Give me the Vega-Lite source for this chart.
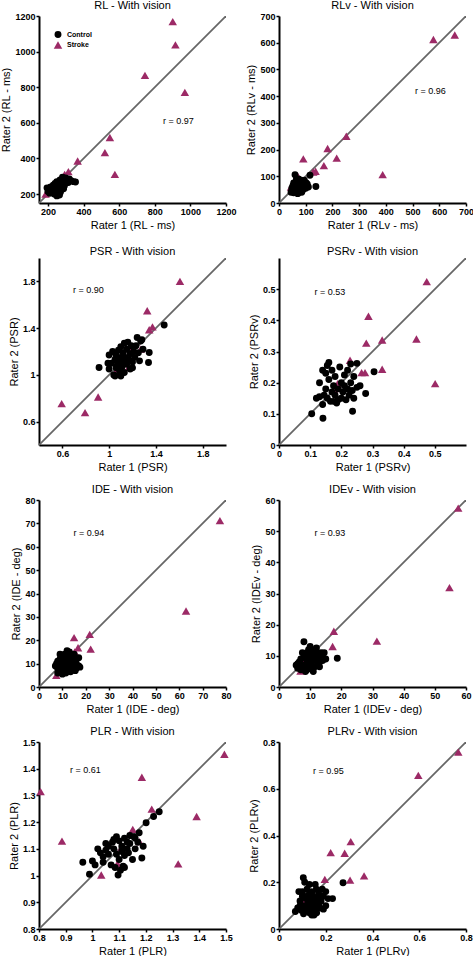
{
"$schema":"https://vega.github.io/schema/vega-lite/v6.json",
"padding":{"left":0,"top":0,"right":2,"bottom":0},
"background":"white",
"columns":2,
"spacing":{"row":55,"column":53},
"bounds":"flush",
"resolve":{"scale":{"color":"independent","shape":"independent","size":"independent"},"legend":{"color":"independent","shape":"independent","size":"independent"}},
"config":{
 "view":{"stroke":null},
 "axis":{"grid":false,"domainColor":"#000","domainWidth":2,"tickColor":"#000","tickWidth":1.5,"tickSize":3,"labelFont":"Liberation Sans","labelFontSize":9,"labelFontWeight":"bold","labelColor":"#000","labelPadding":1,"titleFont":"Liberation Sans","titleFontSize":11,"titleFontWeight":"normal","titleColor":"#000","titlePadding":3,"labelFlush":false,"labelOverlap":false,"format":".2~f"},
 "title":{"font":"Liberation Sans","fontSize":11,"fontWeight":"normal","color":"#000","offset":1},
 "legend":{"labelFont":"Liberation Sans","labelFontSize":7,"labelFontWeight":"bold","labelColor":"#000","symbolSize":50,"rowPadding":2,"title":null,"offset":14,"padding":0}
},
"datasets":{"pts":[
{"p":"RL","g":"Stroke","r1":901,"r2":1168},{"p":"RL","g":"Stroke","r1":916,"r2":1038},{"p":"RL","g":"Stroke","r1":745,"r2":867},{"p":"RL","g":"Stroke","r1":969,"r2":771},{"p":"RL","g":"Stroke","r1":548,"r2":518},{"p":"RL","g":"Stroke","r1":520,"r2":433},{"p":"RL","g":"Stroke","r1":576,"r2":311},{"p":"RL","g":"Stroke","r1":367,"r2":386},{"p":"RL","g":"Stroke","r1":315,"r2":326},{"p":"RL","g":"Stroke","r1":294,"r2":311},{"p":"RL","g":"Stroke","r1":187,"r2":200},{"p":"RL","g":"Stroke","r1":300,"r2":298},
{"p":"RL","g":"Control","r1":195,"r2":235},{"p":"RL","g":"Control","r1":200,"r2":215},{"p":"RL","g":"Control","r1":205,"r2":225},{"p":"RL","g":"Control","r1":210,"r2":205},{"p":"RL","g":"Control","r1":215,"r2":240},{"p":"RL","g":"Control","r1":220,"r2":220},{"p":"RL","g":"Control","r1":225,"r2":230},{"p":"RL","g":"Control","r1":228,"r2":210},{"p":"RL","g":"Control","r1":230,"r2":250},{"p":"RL","g":"Control","r1":235,"r2":200},{"p":"RL","g":"Control","r1":238,"r2":240},{"p":"RL","g":"Control","r1":240,"r2":260},{"p":"RL","g":"Control","r1":242,"r2":220},{"p":"RL","g":"Control","r1":245,"r2":205},{"p":"RL","g":"Control","r1":248,"r2":235},{"p":"RL","g":"Control","r1":250,"r2":270},{"p":"RL","g":"Control","r1":252,"r2":215},{"p":"RL","g":"Control","r1":255,"r2":245},{"p":"RL","g":"Control","r1":258,"r2":225},{"p":"RL","g":"Control","r1":260,"r2":200},{"p":"RL","g":"Control","r1":262,"r2":260},{"p":"RL","g":"Control","r1":265,"r2":235},{"p":"RL","g":"Control","r1":268,"r2":280},{"p":"RL","g":"Control","r1":270,"r2":210},{"p":"RL","g":"Control","r1":272,"r2":250},{"p":"RL","g":"Control","r1":275,"r2":225},{"p":"RL","g":"Control","r1":278,"r2":265},{"p":"RL","g":"Control","r1":280,"r2":240},{"p":"RL","g":"Control","r1":282,"r2":295},{"p":"RL","g":"Control","r1":285,"r2":255},{"p":"RL","g":"Control","r1":288,"r2":230},{"p":"RL","g":"Control","r1":290,"r2":275},{"p":"RL","g":"Control","r1":292,"r2":245},{"p":"RL","g":"Control","r1":295,"r2":285},{"p":"RL","g":"Control","r1":298,"r2":260},{"p":"RL","g":"Control","r1":300,"r2":290},{"p":"RL","g":"Control","r1":305,"r2":270},{"p":"RL","g":"Control","r1":310,"r2":280},{"p":"RL","g":"Control","r1":315,"r2":265},{"p":"RL","g":"Control","r1":320,"r2":285},{"p":"RL","g":"Control","r1":330,"r2":275},{"p":"RL","g":"Control","r1":345,"r2":270},{"p":"RL","g":"Control","r1":355,"r2":268},{"p":"RL","g":"Control","r1":250,"r2":190},{"p":"RL","g":"Control","r1":265,"r2":195},
{"p":"RLv","g":"Stroke","r1":578,"r2":612},{"p":"RLv","g":"Stroke","r1":658,"r2":629},{"p":"RLv","g":"Stroke","r1":252,"r2":250},{"p":"RLv","g":"Stroke","r1":182,"r2":204},{"p":"RLv","g":"Stroke","r1":216,"r2":168},{"p":"RLv","g":"Stroke","r1":168,"r2":140},{"p":"RLv","g":"Stroke","r1":91,"r2":165},{"p":"RLv","g":"Stroke","r1":137,"r2":119},{"p":"RLv","g":"Stroke","r1":128,"r2":116},{"p":"RLv","g":"Stroke","r1":72,"r2":98},{"p":"RLv","g":"Stroke","r1":45,"r2":60},{"p":"RLv","g":"Stroke","r1":388,"r2":106},
{"p":"RLv","g":"Control","r1":45,"r2":40},{"p":"RLv","g":"Control","r1":48,"r2":55},{"p":"RLv","g":"Control","r1":50,"r2":45},{"p":"RLv","g":"Control","r1":52,"r2":65},{"p":"RLv","g":"Control","r1":55,"r2":38},{"p":"RLv","g":"Control","r1":55,"r2":75},{"p":"RLv","g":"Control","r1":58,"r2":50},{"p":"RLv","g":"Control","r1":60,"r2":60},{"p":"RLv","g":"Control","r1":60,"r2":106},{"p":"RLv","g":"Control","r1":62,"r2":42},{"p":"RLv","g":"Control","r1":64,"r2":70},{"p":"RLv","g":"Control","r1":65,"r2":55},{"p":"RLv","g":"Control","r1":67,"r2":80},{"p":"RLv","g":"Control","r1":68,"r2":45},{"p":"RLv","g":"Control","r1":70,"r2":62},{"p":"RLv","g":"Control","r1":72,"r2":50},{"p":"RLv","g":"Control","r1":73,"r2":90},{"p":"RLv","g":"Control","r1":75,"r2":70},{"p":"RLv","g":"Control","r1":76,"r2":40},{"p":"RLv","g":"Control","r1":78,"r2":58},{"p":"RLv","g":"Control","r1":80,"r2":75},{"p":"RLv","g":"Control","r1":80,"r2":48},{"p":"RLv","g":"Control","r1":82,"r2":65},{"p":"RLv","g":"Control","r1":84,"r2":85},{"p":"RLv","g":"Control","r1":85,"r2":55},{"p":"RLv","g":"Control","r1":86,"r2":70},{"p":"RLv","g":"Control","r1":88,"r2":62},{"p":"RLv","g":"Control","r1":90,"r2":78},{"p":"RLv","g":"Control","r1":90,"r2":50},{"p":"RLv","g":"Control","r1":92,"r2":68},{"p":"RLv","g":"Control","r1":94,"r2":60},{"p":"RLv","g":"Control","r1":95,"r2":85},{"p":"RLv","g":"Control","r1":96,"r2":72},{"p":"RLv","g":"Control","r1":98,"r2":58},{"p":"RLv","g":"Control","r1":100,"r2":65},{"p":"RLv","g":"Control","r1":102,"r2":75},{"p":"RLv","g":"Control","r1":104,"r2":62},{"p":"RLv","g":"Control","r1":106,"r2":70},{"p":"RLv","g":"Control","r1":110,"r2":60},{"p":"RLv","g":"Control","r1":116,"r2":104},{"p":"RLv","g":"Control","r1":138,"r2":62},{"p":"RLv","g":"Control","r1":70,"r2":35},{"p":"RLv","g":"Control","r1":85,"r2":40},{"p":"RLv","g":"Control","r1":65,"r2":88},{"p":"RLv","g":"Control","r1":100,"r2":55},
{"p":"PSR","g":"Stroke","r1":1.606,"r2":1.8},{"p":"PSR","g":"Stroke","r1":1.326,"r2":1.549},{"p":"PSR","g":"Stroke","r1":1.371,"r2":1.411},{"p":"PSR","g":"Stroke","r1":1.343,"r2":1.386},{"p":"PSR","g":"Stroke","r1":1.271,"r2":1.22},{"p":"PSR","g":"Stroke","r1":1.186,"r2":1.214},{"p":"PSR","g":"Stroke","r1":1.166,"r2":1.063},{"p":"PSR","g":"Stroke","r1":1.071,"r2":1.049},{"p":"PSR","g":"Stroke","r1":0.906,"r2":0.811},{"p":"PSR","g":"Stroke","r1":0.794,"r2":0.677},{"p":"PSR","g":"Stroke","r1":0.594,"r2":0.754},
{"p":"PSR","g":"Control","r1":0.914,"r2":1.063},{"p":"PSR","g":"Control","r1":1.0,"r2":1.05},{"p":"PSR","g":"Control","r1":1.0,"r2":1.17},{"p":"PSR","g":"Control","r1":1.02,"r2":1.1},{"p":"PSR","g":"Control","r1":1.03,"r2":1.2},{"p":"PSR","g":"Control","r1":1.04,"r2":1.0},{"p":"PSR","g":"Control","r1":1.05,"r2":1.13},{"p":"PSR","g":"Control","r1":1.051,"r2":0.991},{"p":"PSR","g":"Control","r1":1.06,"r2":1.17},{"p":"PSR","g":"Control","r1":1.07,"r2":1.08},{"p":"PSR","g":"Control","r1":1.08,"r2":1.21},{"p":"PSR","g":"Control","r1":1.08,"r2":1.12},{"p":"PSR","g":"Control","r1":1.09,"r2":1.03},{"p":"PSR","g":"Control","r1":1.1,"r2":1.15},{"p":"PSR","g":"Control","r1":1.1,"r2":1.24},{"p":"PSR","g":"Control","r1":1.11,"r2":1.07},{"p":"PSR","g":"Control","r1":1.12,"r2":1.19},{"p":"PSR","g":"Control","r1":1.12,"r2":1.11},{"p":"PSR","g":"Control","r1":1.13,"r2":1.27},{"p":"PSR","g":"Control","r1":1.13,"r2":1.02},{"p":"PSR","g":"Control","r1":1.14,"r2":1.15},{"p":"PSR","g":"Control","r1":1.15,"r2":1.09},{"p":"PSR","g":"Control","r1":1.15,"r2":1.22},{"p":"PSR","g":"Control","r1":1.16,"r2":1.28},{"p":"PSR","g":"Control","r1":1.17,"r2":1.13},{"p":"PSR","g":"Control","r1":1.18,"r2":1.18},{"p":"PSR","g":"Control","r1":1.18,"r2":1.05},{"p":"PSR","g":"Control","r1":1.19,"r2":1.25},{"p":"PSR","g":"Control","r1":1.2,"r2":1.11},{"p":"PSR","g":"Control","r1":1.21,"r2":1.2},{"p":"PSR","g":"Control","r1":1.22,"r2":1.15},{"p":"PSR","g":"Control","r1":1.23,"r2":1.25},{"p":"PSR","g":"Control","r1":1.24,"r2":1.32},{"p":"PSR","g":"Control","r1":1.25,"r2":1.19},{"p":"PSR","g":"Control","r1":1.26,"r2":1.12},{"p":"PSR","g":"Control","r1":1.27,"r2":1.29},{"p":"PSR","g":"Control","r1":1.28,"r2":1.3},{"p":"PSR","g":"Control","r1":1.29,"r2":1.22},{"p":"PSR","g":"Control","r1":1.337,"r2":1.106},{"p":"PSR","g":"Control","r1":1.343,"r2":1.191},{"p":"PSR","g":"Control","r1":1.471,"r2":1.426},{"p":"PSR","g":"Control","r1":1.06,"r2":1.06},{"p":"PSR","g":"Control","r1":1.1,"r2":0.99},{"p":"PSR","g":"Control","r1":0.99,"r2":1.1},{"p":"PSR","g":"Control","r1":1.2,"r2":1.06},
{"p":"PSRv","g":"Stroke","r1":0.474,"r2":0.524},{"p":"PSRv","g":"Stroke","r1":0.287,"r2":0.413},{"p":"PSRv","g":"Stroke","r1":0.331,"r2":0.337},{"p":"PSRv","g":"Stroke","r1":0.28,"r2":0.327},{"p":"PSRv","g":"Stroke","r1":0.441,"r2":0.34},{"p":"PSRv","g":"Stroke","r1":0.228,"r2":0.272},{"p":"PSRv","g":"Stroke","r1":0.265,"r2":0.232},{"p":"PSRv","g":"Stroke","r1":0.276,"r2":0.232},{"p":"PSRv","g":"Stroke","r1":0.331,"r2":0.243},{"p":"PSRv","g":"Stroke","r1":0.501,"r2":0.197},{"p":"PSRv","g":"Stroke","r1":0.188,"r2":0.197},{"p":"PSRv","g":"Stroke","r1":0.177,"r2":0.178},
{"p":"PSRv","g":"Control","r1":0.105,"r2":0.1},{"p":"PSRv","g":"Control","r1":0.141,"r2":0.086},{"p":"PSRv","g":"Control","r1":0.13,"r2":0.2},{"p":"PSRv","g":"Control","r1":0.14,"r2":0.13},{"p":"PSRv","g":"Control","r1":0.145,"r2":0.16},{"p":"PSRv","g":"Control","r1":0.15,"r2":0.23},{"p":"PSRv","g":"Control","r1":0.15,"r2":0.18},{"p":"PSRv","g":"Control","r1":0.155,"r2":0.15},{"p":"PSRv","g":"Control","r1":0.16,"r2":0.265},{"p":"PSRv","g":"Control","r1":0.16,"r2":0.21},{"p":"PSRv","g":"Control","r1":0.165,"r2":0.14},{"p":"PSRv","g":"Control","r1":0.17,"r2":0.24},{"p":"PSRv","g":"Control","r1":0.17,"r2":0.17},{"p":"PSRv","g":"Control","r1":0.175,"r2":0.19},{"p":"PSRv","g":"Control","r1":0.18,"r2":0.16},{"p":"PSRv","g":"Control","r1":0.18,"r2":0.22},{"p":"PSRv","g":"Control","r1":0.185,"r2":0.135},{"p":"PSRv","g":"Control","r1":0.19,"r2":0.18},{"p":"PSRv","g":"Control","r1":0.195,"r2":0.25},{"p":"PSRv","g":"Control","r1":0.2,"r2":0.15},{"p":"PSRv","g":"Control","r1":0.2,"r2":0.2},{"p":"PSRv","g":"Control","r1":0.205,"r2":0.17},{"p":"PSRv","g":"Control","r1":0.21,"r2":0.225},{"p":"PSRv","g":"Control","r1":0.21,"r2":0.19},{"p":"PSRv","g":"Control","r1":0.215,"r2":0.145},{"p":"PSRv","g":"Control","r1":0.22,"r2":0.18},{"p":"PSRv","g":"Control","r1":0.22,"r2":0.24},{"p":"PSRv","g":"Control","r1":0.225,"r2":0.16},{"p":"PSRv","g":"Control","r1":0.23,"r2":0.2},{"p":"PSRv","g":"Control","r1":0.235,"r2":0.175},{"p":"PSRv","g":"Control","r1":0.24,"r2":0.15},{"p":"PSRv","g":"Control","r1":0.24,"r2":0.22},{"p":"PSRv","g":"Control","r1":0.236,"r2":0.108},{"p":"PSRv","g":"Control","r1":0.25,"r2":0.185},{"p":"PSRv","g":"Control","r1":0.25,"r2":0.262},{"p":"PSRv","g":"Control","r1":0.26,"r2":0.19},{"p":"PSRv","g":"Control","r1":0.278,"r2":0.165},{"p":"PSRv","g":"Control","r1":0.305,"r2":0.235},{"p":"PSRv","g":"Control","r1":0.155,"r2":0.255},{"p":"PSRv","g":"Control","r1":0.13,"r2":0.155},{"p":"PSRv","g":"Control","r1":0.14,"r2":0.24},{"p":"PSRv","g":"Control","r1":0.12,"r2":0.15},{"p":"PSRv","g":"Control","r1":0.19,"r2":0.145},{"p":"PSRv","g":"Control","r1":0.23,"r2":0.26},{"p":"PSRv","g":"Control","r1":0.175,"r2":0.14},
{"p":"IDE","g":"Stroke","r1":77.4,"r2":71.2},{"p":"IDE","g":"Stroke","r1":62.9,"r2":32.5},{"p":"IDE","g":"Stroke","r1":21.7,"r2":22.5},{"p":"IDE","g":"Stroke","r1":22.1,"r2":16.2},{"p":"IDE","g":"Stroke","r1":15,"r2":21.1},{"p":"IDE","g":"Stroke","r1":16.7,"r2":16.8},{"p":"IDE","g":"Stroke","r1":15.3,"r2":15},{"p":"IDE","g":"Stroke","r1":14.3,"r2":12.1},{"p":"IDE","g":"Stroke","r1":11,"r2":10.7},{"p":"IDE","g":"Stroke","r1":9.1,"r2":7.8},{"p":"IDE","g":"Stroke","r1":7.4,"r2":5},{"p":"IDE","g":"Stroke","r1":13,"r2":13},
{"p":"IDE","g":"Control","r1":7,"r2":9},{"p":"IDE","g":"Control","r1":7.5,"r2":10},{"p":"IDE","g":"Control","r1":8,"r2":8},{"p":"IDE","g":"Control","r1":8,"r2":11},{"p":"IDE","g":"Control","r1":8.5,"r2":7},{"p":"IDE","g":"Control","r1":9,"r2":9.5},{"p":"IDE","g":"Control","r1":9,"r2":12},{"p":"IDE","g":"Control","r1":9.5,"r2":6.5},{"p":"IDE","g":"Control","r1":10,"r2":8},{"p":"IDE","g":"Control","r1":10,"r2":10.5},{"p":"IDE","g":"Control","r1":10,"r2":13},{"p":"IDE","g":"Control","r1":10.5,"r2":7},{"p":"IDE","g":"Control","r1":11,"r2":9},{"p":"IDE","g":"Control","r1":11,"r2":11.5},{"p":"IDE","g":"Control","r1":11,"r2":14},{"p":"IDE","g":"Control","r1":11.5,"r2":6},{"p":"IDE","g":"Control","r1":12,"r2":8.5},{"p":"IDE","g":"Control","r1":12,"r2":10},{"p":"IDE","g":"Control","r1":12,"r2":12.5},{"p":"IDE","g":"Control","r1":12.5,"r2":7.5},{"p":"IDE","g":"Control","r1":13,"r2":9},{"p":"IDE","g":"Control","r1":13,"r2":11},{"p":"IDE","g":"Control","r1":13,"r2":15},{"p":"IDE","g":"Control","r1":13.5,"r2":6.5},{"p":"IDE","g":"Control","r1":14,"r2":8},{"p":"IDE","g":"Control","r1":14,"r2":10},{"p":"IDE","g":"Control","r1":14,"r2":13},{"p":"IDE","g":"Control","r1":14.5,"r2":11.5},{"p":"IDE","g":"Control","r1":15,"r2":9},{"p":"IDE","g":"Control","r1":15,"r2":14},{"p":"IDE","g":"Control","r1":15.5,"r2":7},{"p":"IDE","g":"Control","r1":16,"r2":12},{"p":"IDE","g":"Control","r1":16,"r2":10},{"p":"IDE","g":"Control","r1":17,"r2":9},{"p":"IDE","g":"Control","r1":17,"r2":12.5},{"p":"IDE","g":"Control","r1":17.5,"r2":8.5},{"p":"IDE","g":"Control","r1":9,"r2":14},{"p":"IDE","g":"Control","r1":12,"r2":15.5},{"p":"IDE","g":"Control","r1":10,"r2":5.5},{"p":"IDE","g":"Control","r1":8,"r2":6},{"p":"IDE","g":"Control","r1":11.5,"r2":12.5},{"p":"IDE","g":"Control","r1":13,"r2":7},{"p":"IDE","g":"Control","r1":15,"r2":11},{"p":"IDE","g":"Control","r1":16,"r2":8},{"p":"IDE","g":"Control","r1":12,"r2":9.5},
{"p":"IDEv","g":"Stroke","r1":57.5,"r2":57.4},{"p":"IDEv","g":"Stroke","r1":54.7,"r2":31.9},{"p":"IDEv","g":"Stroke","r1":31.4,"r2":14.7},{"p":"IDEv","g":"Stroke","r1":17.6,"r2":17.9},{"p":"IDEv","g":"Stroke","r1":17.2,"r2":13},{"p":"IDEv","g":"Stroke","r1":9.6,"r2":11.4},{"p":"IDEv","g":"Stroke","r1":11.2,"r2":10.1},{"p":"IDEv","g":"Stroke","r1":8,"r2":9.1},{"p":"IDEv","g":"Stroke","r1":9.1,"r2":6.9},{"p":"IDEv","g":"Stroke","r1":6.9,"r2":5.1},{"p":"IDEv","g":"Stroke","r1":12,"r2":9.5},
{"p":"IDEv","g":"Control","r1":5.5,"r2":7},{"p":"IDEv","g":"Control","r1":6,"r2":6},{"p":"IDEv","g":"Control","r1":6.5,"r2":8},{"p":"IDEv","g":"Control","r1":7,"r2":9},{"p":"IDEv","g":"Control","r1":7,"r2":5.5},{"p":"IDEv","g":"Control","r1":7.5,"r2":11},{"p":"IDEv","g":"Control","r1":8,"r2":14.5},{"p":"IDEv","g":"Control","r1":8,"r2":7},{"p":"IDEv","g":"Control","r1":8.5,"r2":9.5},{"p":"IDEv","g":"Control","r1":8.5,"r2":5},{"p":"IDEv","g":"Control","r1":9,"r2":11},{"p":"IDEv","g":"Control","r1":9,"r2":8},{"p":"IDEv","g":"Control","r1":9.5,"r2":12},{"p":"IDEv","g":"Control","r1":9.5,"r2":6},{"p":"IDEv","g":"Control","r1":10,"r2":9},{"p":"IDEv","g":"Control","r1":10,"r2":10.5},{"p":"IDEv","g":"Control","r1":10.5,"r2":7},{"p":"IDEv","g":"Control","r1":10.5,"r2":12},{"p":"IDEv","g":"Control","r1":11,"r2":8.5},{"p":"IDEv","g":"Control","r1":11,"r2":5},{"p":"IDEv","g":"Control","r1":11.5,"r2":10},{"p":"IDEv","g":"Control","r1":11.5,"r2":6.5},{"p":"IDEv","g":"Control","r1":12,"r2":9},{"p":"IDEv","g":"Control","r1":12,"r2":11},{"p":"IDEv","g":"Control","r1":12.5,"r2":7.5},{"p":"IDEv","g":"Control","r1":13,"r2":8},{"p":"IDEv","g":"Control","r1":13,"r2":10},{"p":"IDEv","g":"Control","r1":13.5,"r2":11},{"p":"IDEv","g":"Control","r1":14,"r2":9},{"p":"IDEv","g":"Control","r1":14.5,"r2":11},{"p":"IDEv","g":"Control","r1":15,"r2":9},{"p":"IDEv","g":"Control","r1":18.7,"r2":9.2},{"p":"IDEv","g":"Control","r1":6,"r2":7.5},{"p":"IDEv","g":"Control","r1":9,"r2":5.5},{"p":"IDEv","g":"Control","r1":12,"r2":12.5},{"p":"IDEv","g":"Control","r1":13,"r2":6.5},{"p":"IDEv","g":"Control","r1":14,"r2":8.5},{"p":"IDEv","g":"Control","r1":7.5,"r2":6.5},{"p":"IDEv","g":"Control","r1":10,"r2":13},{"p":"IDEv","g":"Control","r1":11,"r2":11},
{"p":"PLR","g":"Stroke","r1":1.494,"r2":1.454},{"p":"PLR","g":"Stroke","r1":0.806,"r2":1.314},{"p":"PLR","g":"Stroke","r1":1.185,"r2":1.368},{"p":"PLR","g":"Stroke","r1":1.222,"r2":1.249},{"p":"PLR","g":"Stroke","r1":1.39,"r2":1.221},{"p":"PLR","g":"Stroke","r1":1.151,"r2":1.173},{"p":"PLR","g":"Stroke","r1":1.176,"r2":1.127},{"p":"PLR","g":"Stroke","r1":1.109,"r2":1.104},{"p":"PLR","g":"Stroke","r1":0.886,"r2":1.129},{"p":"PLR","g":"Stroke","r1":1.094,"r2":1.045},{"p":"PLR","g":"Stroke","r1":1.321,"r2":1.044},{"p":"PLR","g":"Stroke","r1":1.033,"r2":1.002},
{"p":"PLR","g":"Control","r1":0.964,"r2":1.05},{"p":"PLR","g":"Control","r1":0.989,"r2":1.005},{"p":"PLR","g":"Control","r1":1.0,"r2":1.055},{"p":"PLR","g":"Control","r1":1.01,"r2":1.04},{"p":"PLR","g":"Control","r1":1.02,"r2":1.1},{"p":"PLR","g":"Control","r1":1.03,"r2":1.085},{"p":"PLR","g":"Control","r1":1.04,"r2":1.07},{"p":"PLR","g":"Control","r1":1.05,"r2":1.12},{"p":"PLR","g":"Control","r1":1.05,"r2":1.095},{"p":"PLR","g":"Control","r1":1.06,"r2":1.11},{"p":"PLR","g":"Control","r1":1.07,"r2":1.04},{"p":"PLR","g":"Control","r1":1.075,"r2":1.125},{"p":"PLR","g":"Control","r1":1.08,"r2":1.1},{"p":"PLR","g":"Control","r1":1.085,"r2":1.03},{"p":"PLR","g":"Control","r1":1.09,"r2":1.145},{"p":"PLR","g":"Control","r1":1.09,"r2":1.08},{"p":"PLR","g":"Control","r1":1.1,"r2":1.13},{"p":"PLR","g":"Control","r1":1.1,"r2":1.06},{"p":"PLR","g":"Control","r1":1.096,"r2":1.002},{"p":"PLR","g":"Control","r1":1.105,"r2":1.02},{"p":"PLR","g":"Control","r1":1.11,"r2":1.11},{"p":"PLR","g":"Control","r1":1.115,"r2":1.035},{"p":"PLR","g":"Control","r1":1.12,"r2":1.14},{"p":"PLR","g":"Control","r1":1.12,"r2":1.075},{"p":"PLR","g":"Control","r1":1.13,"r2":1.1},{"p":"PLR","g":"Control","r1":1.135,"r2":1.085},{"p":"PLR","g":"Control","r1":1.14,"r2":1.15},{"p":"PLR","g":"Control","r1":1.14,"r2":1.12},{"p":"PLR","g":"Control","r1":1.15,"r2":1.06},{"p":"PLR","g":"Control","r1":1.155,"r2":1.145},{"p":"PLR","g":"Control","r1":1.16,"r2":1.1},{"p":"PLR","g":"Control","r1":1.17,"r2":1.125},{"p":"PLR","g":"Control","r1":1.175,"r2":1.16},{"p":"PLR","g":"Control","r1":1.185,"r2":1.066},{"p":"PLR","g":"Control","r1":1.19,"r2":1.11},{"p":"PLR","g":"Control","r1":1.201,"r2":1.198},{"p":"PLR","g":"Control","r1":1.229,"r2":1.221},{"p":"PLR","g":"Control","r1":1.25,"r2":1.239},{"p":"PLR","g":"Control","r1":1.06,"r2":1.08},{"p":"PLR","g":"Control","r1":1.04,"r2":1.05},{"p":"PLR","g":"Control","r1":1.11,"r2":1.09},{"p":"PLR","g":"Control","r1":1.13,"r2":1.125},{"p":"PLR","g":"Control","r1":1.16,"r2":1.14},{"p":"PLR","g":"Control","r1":1.08,"r2":1.135},{"p":"PLR","g":"Control","r1":1.12,"r2":1.03},
{"p":"PLRv","g":"Stroke","r1":0.767,"r2":0.757},{"p":"PLRv","g":"Stroke","r1":0.596,"r2":0.657},{"p":"PLRv","g":"Stroke","r1":0.307,"r2":0.374},{"p":"PLRv","g":"Stroke","r1":0.221,"r2":0.327},{"p":"PLRv","g":"Stroke","r1":0.281,"r2":0.324},{"p":"PLRv","g":"Stroke","r1":0.364,"r2":0.227},{"p":"PLRv","g":"Stroke","r1":0.304,"r2":0.209},{"p":"PLRv","g":"Stroke","r1":0.196,"r2":0.212},{"p":"PLRv","g":"Stroke","r1":0.136,"r2":0.152},{"p":"PLRv","g":"Stroke","r1":0.104,"r2":0.115},{"p":"PLRv","g":"Stroke","r1":0.14,"r2":0.145},
{"p":"PLRv","g":"Control","r1":0.07,"r2":0.075},{"p":"PLRv","g":"Control","r1":0.08,"r2":0.09},{"p":"PLRv","g":"Control","r1":0.085,"r2":0.16},{"p":"PLRv","g":"Control","r1":0.09,"r2":0.12},{"p":"PLRv","g":"Control","r1":0.095,"r2":0.08},{"p":"PLRv","g":"Control","r1":0.1,"r2":0.14},{"p":"PLRv","g":"Control","r1":0.104,"r2":0.219},{"p":"PLRv","g":"Control","r1":0.105,"r2":0.065},{"p":"PLRv","g":"Control","r1":0.11,"r2":0.1},{"p":"PLRv","g":"Control","r1":0.11,"r2":0.2},{"p":"PLRv","g":"Control","r1":0.115,"r2":0.13},{"p":"PLRv","g":"Control","r1":0.12,"r2":0.085},{"p":"PLRv","g":"Control","r1":0.12,"r2":0.17},{"p":"PLRv","g":"Control","r1":0.125,"r2":0.11},{"p":"PLRv","g":"Control","r1":0.13,"r2":0.07},{"p":"PLRv","g":"Control","r1":0.13,"r2":0.19},{"p":"PLRv","g":"Control","r1":0.135,"r2":0.125},{"p":"PLRv","g":"Control","r1":0.14,"r2":0.095},{"p":"PLRv","g":"Control","r1":0.14,"r2":0.16},{"p":"PLRv","g":"Control","r1":0.145,"r2":0.14},{"p":"PLRv","g":"Control","r1":0.15,"r2":0.08},{"p":"PLRv","g":"Control","r1":0.15,"r2":0.115},{"p":"PLRv","g":"Control","r1":0.155,"r2":0.19},{"p":"PLRv","g":"Control","r1":0.16,"r2":0.1},{"p":"PLRv","g":"Control","r1":0.161,"r2":0.069},{"p":"PLRv","g":"Control","r1":0.165,"r2":0.135},{"p":"PLRv","g":"Control","r1":0.17,"r2":0.15},{"p":"PLRv","g":"Control","r1":0.175,"r2":0.09},{"p":"PLRv","g":"Control","r1":0.18,"r2":0.12},{"p":"PLRv","g":"Control","r1":0.185,"r2":0.17},{"p":"PLRv","g":"Control","r1":0.19,"r2":0.14},{"p":"PLRv","g":"Control","r1":0.2,"r2":0.1},{"p":"PLRv","g":"Control","r1":0.2,"r2":0.16},{"p":"PLRv","g":"Control","r1":0.21,"r2":0.13},{"p":"PLRv","g":"Control","r1":0.229,"r2":0.13},{"p":"PLRv","g":"Control","r1":0.274,"r2":0.198},{"p":"PLRv","g":"Control","r1":0.09,"r2":0.1},{"p":"PLRv","g":"Control","r1":0.12,"r2":0.14},{"p":"PLRv","g":"Control","r1":0.14,"r2":0.06},{"p":"PLRv","g":"Control","r1":0.17,"r2":0.11},{"p":"PLRv","g":"Control","r1":0.19,"r2":0.085},{"p":"PLRv","g":"Control","r1":0.1,"r2":0.16},{"p":"PLRv","g":"Control","r1":0.13,"r2":0.15},{"p":"PLRv","g":"Control","r1":0.16,"r2":0.17},{"p":"PLRv","g":"Control","r1":0.15,"r2":0.06}
]},
"concat":[
{"title":"RL - With vision","width":187,"height":187,
 "encoding":{"x":{"field":"r1","type":"quantitative","scale":{"domain":[150,1200],"nice":false,"zero":false},"axis":{"title":"Rater 1 (RL - ms)","values":[200,400,600,800,1000,1200]}},
  "y":{"field":"r2","type":"quantitative","scale":{"domain":[150,1200],"nice":false,"zero":false},"axis":{"title":"Rater 2 (RL - ms)","values":[200,400,600,800,1000,1200]}}},
 "layer":[
  {"data":{"values":[{"r1":150,"r2":150},{"r1":1200,"r2":1200}]},"mark":{"type":"line","color":"#666666","strokeWidth":1.8,"clip":true},"encoding":{}},
  {"data":{"name":"pts"},"transform":[{"filter":"datum.p=='RL'"}],"mark":{"type":"point","filled":true,"opacity":1},
   "encoding":{"color":{"field":"g","type":"nominal","scale":{"domain":["Control","Stroke"],"range":["#000000","#9c2a66"]},"legend":{"orient":"top-left","title":null}},
    "shape":{"field":"g","type":"nominal","scale":{"domain":["Control","Stroke"],"range":["circle","triangle-up"]},"legend":{"orient":"top-left","title":null}},
    "size":{"field":"g","type":"nominal","scale":{"domain":["Control","Stroke"],"range":[48,72]},"legend":null}}},
  {"data":{"values":[{"r1":933,"r2":608,"t":"r = 0.97"}]},"mark":{"type":"text","font":"Liberation Sans","fontSize":9,"color":"#000"},"encoding":{"text":{"field":"t"}}}
 ]},
{"title":"RLv - With vision","width":187,"height":187,
 "encoding":{"x":{"field":"r1","type":"quantitative","scale":{"domain":[0,700],"nice":false},"axis":{"title":"Rater 1 (RLv - ms)","values":[0,100,200,300,400,500,600,700]}},
  "y":{"field":"r2","type":"quantitative","scale":{"domain":[0,700],"nice":false},"axis":{"title":"Rater 2 (RLv - ms)","values":[0,100,200,300,400,500,600,700]}}},
 "layer":[
  {"data":{"values":[{"r1":0,"r2":0},{"r1":700,"r2":700}]},"mark":{"type":"line","color":"#666666","strokeWidth":1.8,"clip":true},"encoding":{}},
  {"data":{"name":"pts"},"transform":[{"filter":"datum.p=='RLv'"}],"mark":{"type":"point","filled":true,"opacity":1},
   "encoding":{"color":{"field":"g","type":"nominal","scale":{"domain":["Control","Stroke"],"range":["#000000","#9c2a66"]},"legend":null},
    "shape":{"field":"g","type":"nominal","scale":{"domain":["Control","Stroke"],"range":["circle","triangle-up"]},"legend":null},
    "size":{"field":"g","type":"nominal","scale":{"domain":["Control","Stroke"],"range":[48,72]},"legend":null}}},
  {"data":{"values":[{"r1":567,"r2":419,"t":"r = 0.96"}]},"mark":{"type":"text","font":"Liberation Sans","fontSize":9,"color":"#000"},"encoding":{"text":{"field":"t"}}}
 ]},
{"title":"PSR - With vision","width":187,"height":187,
 "encoding":{"x":{"field":"r1","type":"quantitative","scale":{"domain":[0.4,2.0],"nice":false,"zero":false},"axis":{"title":"Rater 1 (PSR)","values":[0.6,1,1.4,1.8]}},
  "y":{"field":"r2","type":"quantitative","scale":{"domain":[0.4,2.0],"nice":false,"zero":false},"axis":{"title":"Rater 2 (PSR)","values":[0.6,1,1.4,1.8]}}},
 "layer":[
  {"data":{"values":[{"r1":0.4,"r2":0.4},{"r1":2.0,"r2":2.0}]},"mark":{"type":"line","color":"#666666","strokeWidth":1.8,"clip":true},"encoding":{}},
  {"data":{"name":"pts"},"transform":[{"filter":"datum.p=='PSR'"}],"mark":{"type":"point","filled":true,"opacity":1},
   "encoding":{"color":{"field":"g","type":"nominal","scale":{"domain":["Control","Stroke"],"range":["#000000","#9c2a66"]},"legend":null},
    "shape":{"field":"g","type":"nominal","scale":{"domain":["Control","Stroke"],"range":["circle","triangle-up"]},"legend":null},
    "size":{"field":"g","type":"nominal","scale":{"domain":["Control","Stroke"],"range":[48,72]},"legend":null}}},
  {"data":{"values":[{"r1":0.823,"r2":1.729,"t":"r = 0.90"}]},"mark":{"type":"text","font":"Liberation Sans","fontSize":9,"color":"#000"},"encoding":{"text":{"field":"t"}}}
 ]},
{"title":"PSRv - With vision","width":187,"height":187,
 "encoding":{"x":{"field":"r1","type":"quantitative","scale":{"domain":[0,0.6],"nice":false},"axis":{"title":"Rater 1 (PSRv)","values":[0,0.1,0.2,0.3,0.4,0.5]}},
  "y":{"field":"r2","type":"quantitative","scale":{"domain":[0,0.6],"nice":false},"axis":{"title":"Rater 2 (PSRv)","values":[0,0.1,0.2,0.3,0.4,0.5]}}},
 "layer":[
  {"data":{"values":[{"r1":0,"r2":0},{"r1":0.6,"r2":0.6}]},"mark":{"type":"line","color":"#666666","strokeWidth":1.8,"clip":true},"encoding":{}},
  {"data":{"name":"pts"},"transform":[{"filter":"datum.p=='PSRv'"}],"mark":{"type":"point","filled":true,"opacity":1},
   "encoding":{"color":{"field":"g","type":"nominal","scale":{"domain":["Control","Stroke"],"range":["#000000","#9c2a66"]},"legend":null},
    "shape":{"field":"g","type":"nominal","scale":{"domain":["Control","Stroke"],"range":["circle","triangle-up"]},"legend":null},
    "size":{"field":"g","type":"nominal","scale":{"domain":["Control","Stroke"],"range":[48,72]},"legend":null}}},
  {"data":{"values":[{"r1":0.163,"r2":0.491,"t":"r = 0.53"}]},"mark":{"type":"text","font":"Liberation Sans","fontSize":9,"color":"#000"},"encoding":{"text":{"field":"t"}}}
 ]},
{"title":"IDE - With vision","width":187,"height":187,
 "encoding":{"x":{"field":"r1","type":"quantitative","scale":{"domain":[0,80],"nice":false},"axis":{"title":"Rater 1 (IDE - deg)","values":[0,10,20,30,40,50,60,70,80]}},
  "y":{"field":"r2","type":"quantitative","scale":{"domain":[0,80],"nice":false},"axis":{"title":"Rater 2 (IDE - deg)","values":[0,10,20,30,40,50,60,70,80]}}},
 "layer":[
  {"data":{"values":[{"r1":0,"r2":0},{"r1":80,"r2":80}]},"mark":{"type":"line","color":"#666666","strokeWidth":1.8,"clip":true},"encoding":{}},
  {"data":{"name":"pts"},"transform":[{"filter":"datum.p=='IDE'"}],"mark":{"type":"point","filled":true,"opacity":1},
   "encoding":{"color":{"field":"g","type":"nominal","scale":{"domain":["Control","Stroke"],"range":["#000000","#9c2a66"]},"legend":null},
    "shape":{"field":"g","type":"nominal","scale":{"domain":["Control","Stroke"],"range":["circle","triangle-up"]},"legend":null},
    "size":{"field":"g","type":"nominal","scale":{"domain":["Control","Stroke"],"range":[48,72]},"legend":null}}},
  {"data":{"values":[{"r1":21.3,"r2":65.8,"t":"r = 0.94"}]},"mark":{"type":"text","font":"Liberation Sans","fontSize":9,"color":"#000"},"encoding":{"text":{"field":"t"}}}
 ]},
{"title":"IDEv - With vision","width":187,"height":187,
 "encoding":{"x":{"field":"r1","type":"quantitative","scale":{"domain":[0,60],"nice":false},"axis":{"title":"Rater 1 (IDEv - deg)","values":[0,10,20,30,40,50,60]}},
  "y":{"field":"r2","type":"quantitative","scale":{"domain":[0,60],"nice":false},"axis":{"title":"Rater 2 (IDEv - deg)","values":[0,10,20,30,40,50,60]}}},
 "layer":[
  {"data":{"values":[{"r1":0,"r2":0},{"r1":60,"r2":60}]},"mark":{"type":"line","color":"#666666","strokeWidth":1.8,"clip":true},"encoding":{}},
  {"data":{"name":"pts"},"transform":[{"filter":"datum.p=='IDEv'"}],"mark":{"type":"point","filled":true,"opacity":1},
   "encoding":{"color":{"field":"g","type":"nominal","scale":{"domain":["Control","Stroke"],"range":["#000000","#9c2a66"]},"legend":null},
    "shape":{"field":"g","type":"nominal","scale":{"domain":["Control","Stroke"],"range":["circle","triangle-up"]},"legend":null},
    "size":{"field":"g","type":"nominal","scale":{"domain":["Control","Stroke"],"range":[48,72]},"legend":null}}},
  {"data":{"values":[{"r1":16.3,"r2":49.3,"t":"r = 0.93"}]},"mark":{"type":"text","font":"Liberation Sans","fontSize":9,"color":"#000"},"encoding":{"text":{"field":"t"}}}
 ]},
{"title":"PLR - With vision","width":187,"height":187,
 "encoding":{"x":{"field":"r1","type":"quantitative","scale":{"domain":[0.8,1.5],"nice":false,"zero":false},"axis":{"title":"Rater 1 (PLR)","values":[0.8,0.9,1,1.1,1.2,1.3,1.4,1.5]}},
  "y":{"field":"r2","type":"quantitative","scale":{"domain":[0.8,1.5],"nice":false,"zero":false},"axis":{"title":"Rater 2 (PLR)","values":[0.8,0.9,1,1.1,1.2,1.3,1.4,1.5]}}},
 "layer":[
  {"data":{"values":[{"r1":0.8,"r2":0.8},{"r1":1.5,"r2":1.5}]},"mark":{"type":"line","color":"#666666","strokeWidth":1.8,"clip":true},"encoding":{}},
  {"data":{"name":"pts"},"transform":[{"filter":"datum.p=='PLR'"}],"mark":{"type":"point","filled":true,"opacity":1},
   "encoding":{"color":{"field":"g","type":"nominal","scale":{"domain":["Control","Stroke"],"range":["#000000","#9c2a66"]},"legend":null},
    "shape":{"field":"g","type":"nominal","scale":{"domain":["Control","Stroke"],"range":["circle","triangle-up"]},"legend":null},
    "size":{"field":"g","type":"nominal","scale":{"domain":["Control","Stroke"],"range":[48,72]},"legend":null}}},
  {"data":{"values":[{"r1":0.974,"r2":1.396,"t":"r = 0.61"}]},"mark":{"type":"text","font":"Liberation Sans","fontSize":9,"color":"#000"},"encoding":{"text":{"field":"t"}}}
 ]},
{"title":"PLRv - With vision","width":187,"height":187,
 "encoding":{"x":{"field":"r1","type":"quantitative","scale":{"domain":[0,0.8],"nice":false},"axis":{"title":"Rater 1 (PLRv)","values":[0,0.2,0.4,0.6,0.8]}},
  "y":{"field":"r2","type":"quantitative","scale":{"domain":[0,0.8],"nice":false},"axis":{"title":"Rater 2 (PLRv)","values":[0,0.2,0.4,0.6,0.8]}}},
 "layer":[
  {"data":{"values":[{"r1":0,"r2":0},{"r1":0.8,"r2":0.8}]},"mark":{"type":"line","color":"#666666","strokeWidth":1.8,"clip":true},"encoding":{}},
  {"data":{"name":"pts"},"transform":[{"filter":"datum.p=='PLRv'"}],"mark":{"type":"point","filled":true,"opacity":1},
   "encoding":{"color":{"field":"g","type":"nominal","scale":{"domain":["Control","Stroke"],"range":["#000000","#9c2a66"]},"legend":null},
    "shape":{"field":"g","type":"nominal","scale":{"domain":["Control","Stroke"],"range":["circle","triangle-up"]},"legend":null},
    "size":{"field":"g","type":"nominal","scale":{"domain":["Control","Stroke"],"range":[48,72]},"legend":null}}},
  {"data":{"values":[{"r1":0.211,"r2":0.677,"t":"r = 0.95"}]},"mark":{"type":"text","font":"Liberation Sans","fontSize":9,"color":"#000"},"encoding":{"text":{"field":"t"}}}
 ]}
]
}
